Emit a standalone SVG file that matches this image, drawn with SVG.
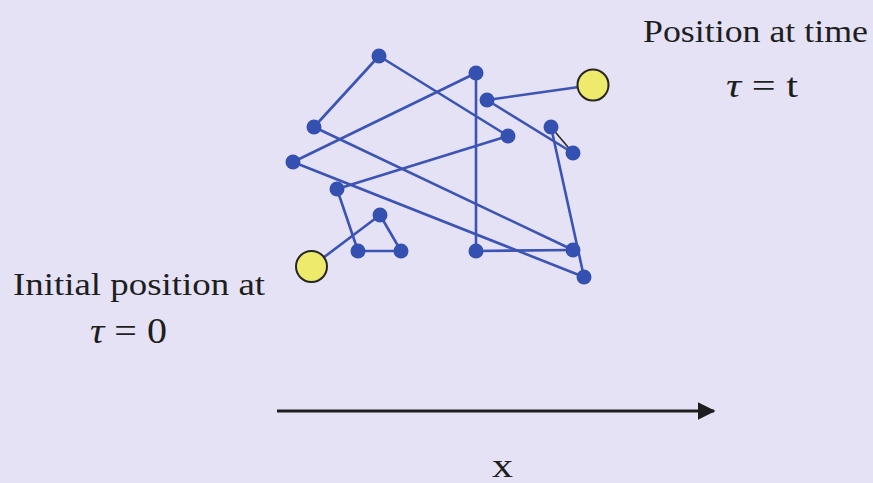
<svg xmlns="http://www.w3.org/2000/svg" width="873" height="483" viewBox="0 0 873 483">
<defs>
<style>
.t{font-family:"Liberation Serif",Tinos,"Times New Roman",Times,serif;fill:#1e1e1e}
.e{stroke:#3b54b6;stroke-width:2.6;fill:none;stroke-linecap:round}
.n{fill:#3450b0}
.y{fill:#eeea6c;stroke:#262626;stroke-width:2}
</style>
<marker id="ah" markerWidth="6" markerHeight="6" refX="5.5" refY="3" orient="auto" markerUnits="strokeWidth">
<path d="M0,0 L6,3 L0,6 Z" fill="#1e1e1e"/>
</marker>
</defs>
<rect width="873" height="483" fill="#e4e2f4"/>
<g id="connectors">
<line class="e" x1="311" y1="267" x2="380" y2="215"/>
<line class="e" x1="380" y1="215" x2="401" y2="251"/>
<line class="e" x1="401" y1="251" x2="358" y2="251"/>
<line class="e" x1="358" y1="251" x2="337" y2="189"/>
<line class="e" x1="337" y1="189" x2="508" y2="136"/>
<line class="e" x1="508" y1="136" x2="379" y2="56" stroke-width="2"/>
<line class="e" x1="379" y1="56" x2="314" y2="127"/>
<line class="e" x1="314" y1="127" x2="573" y2="250"/>
<line class="e" x1="573" y1="250" x2="476" y2="251"/>
<line class="e" x1="476" y1="251" x2="476" y2="73"/>
<line class="e" x1="476" y1="73" x2="293" y2="162"/>
<line class="e" x1="293" y1="162" x2="584" y2="277" stroke-width="2"/>
<line class="e" x1="584" y1="277" x2="551" y2="127"/>
<line x1="551" y1="127" x2="573" y2="153" stroke="#2a2a2a" stroke-width="1.6"/>
<line class="e" x1="573" y1="153" x2="487" y2="100"/>
<line class="e" x1="487" y1="100" x2="593" y2="85"/>
<line x1="277" y1="411" x2="714" y2="411" stroke="#1e1e1e" stroke-width="3" marker-end="url(#ah)"/>
</g>
<g id="start"><circle class="y" cx="311.5" cy="266.5" r="15.5"/></g>
<g id="end"><circle class="y" cx="593" cy="85" r="15.5"/></g>
<g id="nodes">
<circle class="n" cx="380" cy="215" r="7.5"/>
<circle class="n" cx="401" cy="251" r="7.5"/>
<circle class="n" cx="358" cy="251" r="7.5"/>
<circle class="n" cx="337" cy="189" r="7.5"/>
<circle class="n" cx="508" cy="136" r="7.5"/>
<circle class="n" cx="379" cy="56" r="7.5"/>
<circle class="n" cx="314" cy="127" r="7.5"/>
<circle class="n" cx="573" cy="250" r="7.5"/>
<circle class="n" cx="476" cy="251" r="7.5"/>
<circle class="n" cx="476" cy="73" r="7.5"/>
<circle class="n" cx="293" cy="162" r="7.5"/>
<circle class="n" cx="584" cy="277" r="7.5"/>
<circle class="n" cx="551" cy="127" r="7.5"/>
<circle class="n" cx="573" cy="153" r="7.5"/>
<circle class="n" cx="487" cy="100" r="7.5"/>
</g>
<g id="label-end">
<text class="t" font-family="Liberation Serif, serif" x="643" y="42" font-size="31" textLength="225" lengthAdjust="spacingAndGlyphs">Position at time</text>
<text class="t" font-family="Liberation Serif, serif" x="726" y="97" font-size="34" textLength="72" lengthAdjust="spacingAndGlyphs"><tspan font-style="italic">τ</tspan> = t</text>
</g>
<g id="label-start">
<text class="t" font-family="Liberation Serif, serif" x="13" y="295" font-size="32" textLength="252" lengthAdjust="spacingAndGlyphs">Initial position at</text>
<text class="t" font-family="Liberation Serif, serif" x="90" y="343" font-size="36" textLength="77" lengthAdjust="spacingAndGlyphs"><tspan font-style="italic">τ</tspan> = 0</text>
</g>
<g id="label-x">
<text class="t" font-family="Liberation Serif, serif" x="492" y="477" font-size="34" textLength="21" lengthAdjust="spacingAndGlyphs">x</text>
</g>
</svg>
